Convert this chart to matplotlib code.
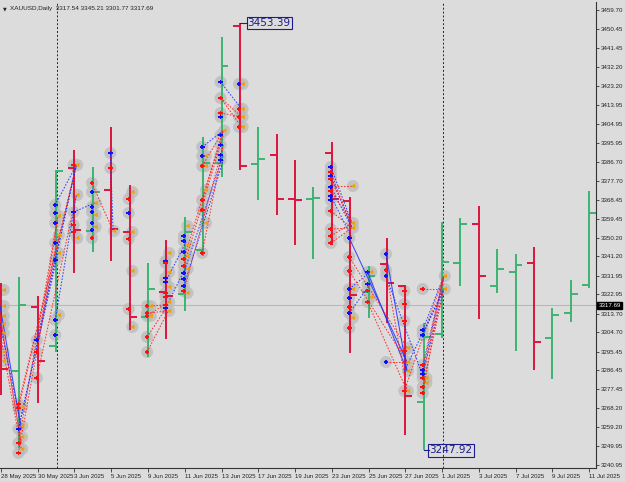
import matplotlib
matplotlib.use('Agg')
import matplotlib.pyplot as plt
import matplotlib.transforms as mtransforms

plt.rcParams['font.family'] = ['Liberation Sans', 'DejaVu Sans']

# ---------------- data ----------------
date_labels = ["28 May 2025", "30 May 2025", "3 Jun 2025", "5 Jun 2025", "9 Jun 2025",
               "11 Jun 2025", "13 Jun 2025", "17 Jun 2025", "19 Jun 2025", "23 Jun 2025",
               "25 Jun 2025", "27 Jun 2025", "1 Jul 2025", "3 Jul 2025", "7 Jul 2025",
               "9 Jul 2025", "11 Jul 2025"]

opens = [3320.27, 3286.13, 3316.90, 3298.15, 3383.74, 3353.45, 3373.16, 3352.96, 3312.10, 3324.12,
         3323.15, 3344.31, 3386.14, 3452.01, 3385.66, 3389.99, 3368.83, 3368.83, 3390.95, 3367.87,
         3324.12, 3337.58, 3327.00, 3271.23, 3303.92, 3338.06, 3356.81, 3327.00, 3333.73, 3338.06,
         3302.00, 3314.02, 3327.48]
highs = [3328.44, 3331.33, 3322.19, 3382.77, 3392.39, 3384.22, 3403.45, 3375.56, 3338.06, 3349.12,
         3360.18, 3398.64, 3446.72, 3453.39, 3403.45, 3400.08, 3387.58, 3374.60, 3396.24, 3369.79,
         3336.62, 3350.08, 3327.50, 3309.21, 3357.77, 3359.70, 3365.47, 3344.79, 3342.39, 3345.75,
         3316.42, 3329.89, 3372.68]
lows = [3274.59, 3249.00, 3270.75, 3295.27, 3333.25, 3343.35, 3339.02, 3305.85, 3292.86, 3301.52,
        3314.98, 3341.43, 3379.41, 3382.77, 3368.35, 3361.10, 3346.71, 3339.98, 3346.71, 3294.79,
        3311.62, 3309.21, 3255.36, 3247.92, 3302.00, 3327.00, 3311.13, 3323.64, 3295.75, 3286.61,
        3282.29, 3309.69, 3326.04]
closes = [3287.09, 3317.87, 3290.94, 3382.29, 3353.93, 3372.20, 3354.41, 3312.10, 3325.56, 3322.19,
          3352.96, 3386.14, 3432.78, 3384.70, 3388.06, 3368.83, 3368.30, 3369.20, 3368.83, 3322.67,
          3331.81, 3328.44, 3274.11, 3302.48, 3338.54, 3356.81, 3331.81, 3335.17, 3337.10, 3300.08,
          3313.06, 3323.15, 3362.10]

y_labels = ["3459.70", "3450.45", "3441.45", "3432.20", "3423.20", "3413.95", "3404.95", "3395.95",
            "3386.70", "3377.70", "3368.45", "3359.45", "3350.20", "3341.20", "3331.95", "3322.95",
            "3313.70", "3304.70", "3295.45", "3286.45", "3277.45", "3268.20", "3259.20", "3249.95",
            "3240.95"]

bid_price = 3317.69
header = "XAUUSD,Daily  3317.54 3345.21 3301.77 3317.69"
high_label = 3453.39
low_label = 3247.92

buy_marks = {1: [3258.25], 2: [3301.04],
             3: [3365.95, 3362.10, 3357.29, 3347.68, 3339.50, 3310.65, 3303.44],
             4: [3362.58], 5: [3372.20, 3364.98, 3362.58, 3357.29, 3353.93], 6: [3390.95],
             7: [3362.10], 9: [3339.02, 3330.85, 3328.92, 3316.42],
             10: [3351.04, 3348.64, 3343.35, 3333.25, 3330.37, 3327.00], 11: [3393.83, 3389.50],
             12: [3425.08, 3408.26, 3399.60, 3394.79, 3389.99, 3387.58], 13: [3424.12],
             18: [3384.22, 3379.89, 3374.60, 3370.27, 3368.35],
             19: [3350.08, 3325.56, 3321.23, 3314.02], 20: [3333.73, 3327.96],
             21: [3342.39, 3331.81, 3290.46], 23: [3305.85, 3303.44, 3286.61, 3284.69]}
sell_marks = {1: [3270.26, 3268.34, 3251.50, 3246.70], 2: [3295.27, 3282.77],
              4: [3385.18, 3356.33, 3352.96], 5: [3376.52, 3350.08], 6: [3383.74],
              7: [3368.83, 3349.60, 3315.94], 8: [3317.38, 3314.02, 3312.58, 3302.48, 3295.27],
              9: [3338.06, 3323.64, 3321.71, 3317.87], 10: [3339.98, 3336.62, 3324.60],
              11: [3384.70, 3368.35, 3363.54, 3342.87], 12: [3417.39, 3410.18],
              13: [3412.10, 3408.26, 3403.45],
              18: [3381.81, 3378.45, 3372.68, 3363.06, 3354.41, 3351.04, 3347.68],
              19: [3340.95, 3334.21, 3316.90, 3306.81], 20: [3324.60, 3319.31], 21: [3334.69],
              22: [3324.60, 3318.35, 3310.17, 3295.75, 3276.52],
              23: [3325.56, 3289.01, 3282.77, 3278.43, 3275.56]}
close_marks = {0: [3325.08, 3317.38, 3312.58, 3308.73, 3304.40, 3295.27, 3290.94],
               1: [3268.80, 3259.70, 3254.40, 3248.60], 3: [3360.65, 3351.52, 3342.87, 3313.06],
               4: [3385.18, 3370.75, 3350.08], 5: [3366.91, 3361.14, 3355.37], 6: [3353.45],
               7: [3372.20, 3352.96, 3334.21, 3307.29], 8: [3317.38, 3312.58],
               9: [3342.87, 3333.73, 3326.52, 3319.31, 3314.98],
               10: [3355.85, 3346.71, 3341.43, 3335.17, 3323.64],
               11: [3389.50, 3384.70, 3373.16, 3357.29], 12: [3401.76],
               13: [3424.12, 3412.10, 3408.26, 3403.45],
               19: [3375.08, 3357.29, 3354.89, 3325.56, 3311.61], 20: [3333.73, 3321.71],
               22: [3297.19, 3290.46, 3286.13, 3276.52], 23: [3282.77, 3280.38],
               24: [3331.81, 3325.56]}

# links: (bar_from, price_from, bar_to, price_to, colour, solid)
links = [
    (0, 3317.38, 1, 3258.25, 'b', True), (0, 3312.58, 1, 3251.50, 'r', True),
    (0, 3304.40, 1, 3248.60, 'r', False), (0, 3308.73, 1, 3259.70, 'b', False),
    (1, 3270.26, 4, 3385.18, 'r', False), (1, 3268.34, 4, 3385.18, 'r', False),
    (1, 3258.25, 4, 3385.18, 'b', False), (1, 3251.50, 3, 3360.65, 'r', False),
    (1, 3246.70, 3, 3351.52, 'r', False), (1, 3258.25, 3, 3342.87, 'b', False),
    (2, 3301.04, 4, 3385.18, 'b', False), (2, 3295.27, 3, 3360.65, 'r', False),
    (2, 3282.77, 4, 3370.75, 'r', False), (3, 3365.95, 4, 3385.18, 'b', False),
    (3, 3310.65, 4, 3370.75, 'b', False), (4, 3362.58, 5, 3366.91, 'b', False),
    (5, 3376.52, 6, 3353.45, 'r', False), (6, 3390.95, 6, 3353.45, 'b', False),
    (8, 3317.38, 9, 3317.87, 'r', False), (8, 3314.02, 9, 3314.98, 'r', False),
    (8, 3312.58, 9, 3319.31, 'r', False), (8, 3302.48, 9, 3317.87, 'r', False),
    (8, 3295.27, 9, 3314.98, 'r', False), (9, 3316.42, 10, 3336.62, 'b', False),
    (9, 3328.92, 10, 3348.64, 'b', False),
    (10, 3339.98, 12, 3401.76, 'r', False), (10, 3336.62, 12, 3399.60, 'r', False),
    (10, 3324.60, 12, 3394.79, 'r', False), (10, 3333.25, 12, 3389.99, 'b', False),
    (10, 3327.00, 12, 3387.58, 'b', False), (11, 3342.87, 12, 3394.79, 'r', False),
    (11, 3368.35, 12, 3401.76, 'r', False), (11, 3393.83, 12, 3401.76, 'b', False),
    (11, 3384.70, 12, 3401.76, 'r', False),
    (12, 3425.08, 13, 3412.10, 'b', False), (12, 3417.39, 13, 3408.26, 'r', False),
    (12, 3410.18, 13, 3408.26, 'r', False), (12, 3417.39, 13, 3403.45, 'r', False),
    (18, 3384.22, 19, 3357.29, 'b', False), (18, 3381.81, 19, 3354.89, 'r', False),
    (18, 3379.89, 19, 3354.89, 'b', False), (18, 3378.45, 19, 3357.29, 'r', False),
    (18, 3374.60, 19, 3354.89, 'b', False), (18, 3372.68, 19, 3357.29, 'r', False),
    (18, 3370.27, 19, 3350.08, 'b', False), (18, 3363.06, 19, 3354.89, 'r', False),
    (18, 3354.41, 19, 3354.89, 'r', False), (18, 3351.04, 19, 3357.29, 'r', False),
    (18, 3347.68, 19, 3354.89, 'r', False), (18, 3375.08, 19, 3375.08, 'r', False),
    (19, 3350.08, 22, 3290.46, 'b', True), (20, 3333.73, 22, 3286.13, 'b', True),
    (20, 3319.31, 22, 3276.52, 'r', False), (19, 3325.56, 20, 3333.73, 'b', False),
    (19, 3314.02, 20, 3327.96, 'b', False), (19, 3340.95, 22, 3297.19, 'r', False),
    (19, 3334.21, 22, 3290.46, 'r', False), (21, 3342.39, 22, 3286.13, 'b', True),
    (21, 3331.81, 23, 3280.38, 'b', False), (21, 3334.69, 22, 3276.52, 'r', False),
    (21, 3290.46, 22, 3290.46, 'r', False),
    (23, 3305.85, 24, 3331.81, 'b', False), (23, 3303.44, 24, 3325.56, 'b', False),
    (23, 3289.01, 24, 3331.81, 'r', False), (23, 3286.61, 24, 3331.81, 'b', False),
    (23, 3284.69, 24, 3325.56, 'b', False), (23, 3282.77, 24, 3331.81, 'r', False),
    (23, 3278.43, 24, 3325.56, 'r', False), (23, 3275.56, 24, 3331.81, 'r', False),
    (22, 3276.52, 24, 3331.81, 'r', False), (22, 3286.13, 24, 3325.56, 'b', False),
    (23, 3325.56, 24, 3325.56, 'r', False),
]

# ---------------- styling ----------------
BG = '#dcdcdc'
GREEN = '#3cb371'
RED = '#dc143c'
BLUE_L = '#2030ff'
RED_L = '#ff2020'
ORANGE = '#f0a000'
NAVY = '#1c1c8c'

fig = plt.figure(figsize=(6.25, 4.82), dpi=100, facecolor=BG)
ax = fig.add_axes([0.0, 14 / 482, 596 / 625, 466 / 482], facecolor=BG)
ax.set_xlim(-0.054, 32.38)
ax.set_ylim(3239.49, 3463.55)

n = len(opens)
xs = list(range(n))
tick_w = 0.38

# bid line and separators
ax.axhline(bid_price, color='#b8b8b8', lw=0.8, zorder=0.5)
for sep in (3, 24):
    ax.axvline(sep + 0.05, color='#222222', lw=0.7, ls=(0, (2, 2)), zorder=0.6)

# OHLC bars
for i in xs:
    c = GREEN if closes[i] >= opens[i] else RED
    ax.vlines(i, lows[i], highs[i], color=c, lw=1.4, zorder=2)
    ax.hlines(opens[i], i - tick_w, i, color=c, lw=1.4, zorder=2)
    ax.hlines(closes[i], i, i + tick_w, color=c, lw=1.4, zorder=2)

# trade circles
def collect(d, dx):
    px, py = [], []
    for b, vals in d.items():
        for v in vals:
            px.append(b + dx)
            py.append(v)
    return px, py

bx, by = collect(buy_marks, -0.05)
sx, sy = collect(sell_marks, -0.05)
ox, oy = collect(close_marks, 0.15)
ax.scatter(bx + sx + ox, by + sy + oy, s=75, color='#bababa', alpha=0.75,
           edgecolors='none', zorder=1.5)

# links
for b0, p0, b1, p1, col, solid in links:
    c = BLUE_L if col == 'b' else RED_L
    ax.plot([b0 - 0.05, b1 + 0.1], [p0, p1], color=c, lw=0.75,
            ls='-' if solid else (0, (1.5, 1.5)), alpha=0.85 if solid else 0.9,
            zorder=3)

# markers
ax.scatter(bx, by, s=12, marker='P', color='#1010ff', edgecolors='none', zorder=4)
ax.scatter(sx, sy, s=12, marker='P', color='#ff1010', edgecolors='none', zorder=4)
ax.scatter(ox, oy, s=10, marker='<', color=ORANGE, edgecolors='none', zorder=4)

# high / low labels
hi_bar = highs.index(max(highs))
lo_bar = lows.index(min(lows))
ax.plot([hi_bar, hi_bar + 0.4], [high_label, high_label], color=NAVY, lw=0.8, zorder=5)
ax.text(hi_bar + 0.42, high_label, f"{high_label:.2f}", fontsize=7.5, color=NAVY,
        va='center', ha='left', zorder=6, family='DejaVu Sans',
        bbox=dict(boxstyle='square,pad=0.1', fc='none', ec=NAVY, lw=0.8))
ax.plot([lo_bar, lo_bar + 0.3], [low_label, low_label], color=NAVY, lw=0.8, zorder=5)
ax.text(lo_bar + 0.32, low_label, f"{low_label:.2f}", fontsize=7.5, color=NAVY,
        va='center', ha='left', zorder=6, family='DejaVu Sans',
        bbox=dict(boxstyle='square,pad=0.1', fc='none', ec=NAVY, lw=0.8))

# axes / ticks
for s in ('left', 'top'):
    ax.spines[s].set_visible(False)
for s in ('right', 'bottom'):
    ax.spines[s].set_color('#333333')
    ax.spines[s].set_linewidth(0.8)

ax.yaxis.tick_right()
ax.set_yticks([float(v) for v in y_labels])
ax.set_yticklabels(y_labels)
ax.tick_params(axis='y', length=2.5, width=0.6, color='#333333', labelsize=4.4,
               pad=1.2, labelcolor='#222222')

ax.set_xticks(list(range(0, n, 2)))
ax.set_xticklabels(date_labels)
for lab in ax.get_xticklabels():
    lab.set_horizontalalignment('left')
ax.tick_params(axis='x', length=3, width=0.6, color='#333333', labelsize=4.4,
               pad=1.5, labelcolor='#222222')

# current price tag
trans = mtransforms.blended_transform_factory(ax.transAxes, ax.transData)
ax.text(1.004, bid_price, f"{bid_price:.2f}", transform=trans, fontsize=4.4, color='white',
        va='center', ha='left', zorder=7, clip_on=False,
        bbox=dict(boxstyle='square,pad=0.2', fc='black', ec='black'))

# header
fig.text(0.004, 0.9875, '\u25bc', fontsize=3.5, color='#222222', va='top', ha='left',
         family='DejaVu Sans')
fig.text(0.016, 0.9885, header, fontsize=4.6, color='#222222', va='top', ha='left')

fig.savefig('out.png', dpi=100, facecolor=BG)
